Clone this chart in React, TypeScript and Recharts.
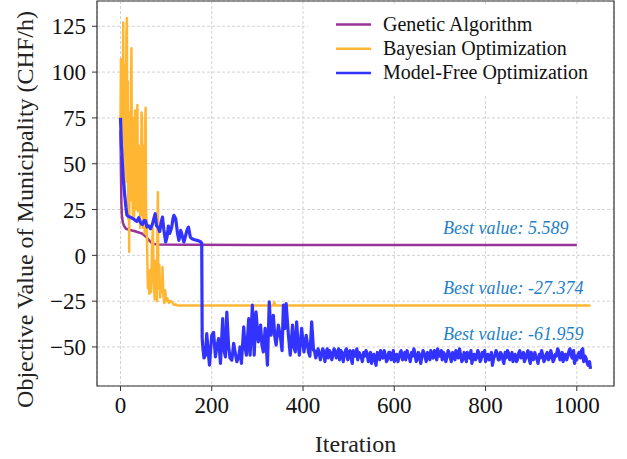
import React from "react";
import {
  LineChart,
  Line,
  XAxis,
  YAxis,
  CartesianGrid,
  Legend,
  ReferenceArea,
  ReferenceDot,
} from "recharts";

// [iteration, objective value]
const gaPoints: [number, number][] = [
  [0, 68], [1, 45], [2, 28], [3, 22], [5, 18], [8, 16], [12, 14.5], [20, 13.8],
  [30, 13.3], [40, 12.5], [48, 11.8], [55, 10.3], [60, 9], [65, 7.5], [70, 6.4],
  [80, 5.9], [150, 5.8], [300, 5.7], [500, 5.65], [1000, 5.589],
];

const boPoints: [number, number][] = [
  [0, 75], [1, 107], [2, 55], [3, 98], [4, 62], [5, 88], [6, 127], [7, 45], [8, 95],
  [9, 35], [10, 104], [11, 60], [12, 85], [13, 121], [14, 129.5], [15, 40], [16, 95],
  [17, 20], [18, 70], [19, 2], [20, 58], [21, 78], [22, 30], [23, 90], [24, 113],
  [25, 45], [26, 68], [27, 22], [28, 75], [29, 40], [30, 21], [31, 66], [32, 79],
  [33, 30], [34, 52], [35, 25], [36, 70], [37, 82], [38, 35], [39, 24], [40, 60],
  [41, 30], [42, 48], [43, 15], [44, 55], [45, 36], [46, 78], [47, 74], [48, 22],
  [49, 40], [50, 15], [51, 60], [52, 28], [53, 12], [54, 70], [55, 80.5], [56, 25],
  [57, 18], [58, 10], [59, -5], [60, -18], [62, -12], [63, -21], [65, -8], [67, -20],
  [69, 5], [71, 14.7], [73, -15], [75, -24], [77, -3], [79, -22], [80, -25], [81, 20],
  [82, 34.5], [83, -18], [85, -5], [87, -23], [89, -14], [91, -20], [92, -6.4],
  [94, -22], [96, -26], [98, -19], [100, -25], [103, -23.5], [106, -26], [109, -25],
  [113, -25.5], [117, -27], [121, -26.8], [125, -27.374], [335, -27.374],
  [337, -25.5], [339, -27.374], [1030, -27.374],
];

const mfoPoints: [number, number][] = [
  [0, 75], [2, 60], [4, 51], [6, 42], [8, 36], [10, 31], [12, 26], [14, 22],
  [16, 21.5], [20, 21], [24, 20.5], [28, 20], [32, 19.2], [36, 18.5], [40, 20.5],
  [44, 17.8], [48, 16.8], [52, 19], [55, 18.8], [58, 15.5], [62, 16], [66, 14.5],
  [70, 17], [74, 21], [76, 22.7], [79, 16], [82, 15.4], [86, 13], [89, 18],
  [92, 20.9], [95, 14], [99, 7.3], [102, 10], [105, 16], [108, 12], [112, 15],
  [115, 20], [117, 21.8], [121, 20], [125, 12], [128, 8.2], [132, 13.6], [136, 10],
  [139, 7.3], [143, 11], [146, 14], [149, 15.4], [153, 10], [157, 9], [162, 8.5],
  [168, 8.2], [172, 7.8], [176, 7.3], [178, 6.6], [179, -45],
  [180, -49], [183, -56], [186, -54.5], [189, -42.7], [192, -52], [195, -59.9],
  [200, -43.6], [204, -42], [208, -55.4], [211, -50], [215, -45.4], [219, -59],
  [224, -34.5], [227, -52], [230, -55.4], [233, -31], [237, -50], [240, -56],
  [244, -57.2], [248, -48], [251, -52.7], [255, -58], [259, -55.4], [262, -50],
  [265, -59], [270, -39], [273, -50], [276, -54.5], [281, -34.5], [284, -54.5],
  [289, -27.2], [293, -54.5], [297, -30.9], [302, -47.2], [307, -38.1], [310, -49],
  [313, -52.7], [317, -39.9], [322, -59.9], [326, -25.4], [330, -43.6], [335, -32.7],
  [338, -44], [341, -49], [346, -38.1], [351, -45.4], [354, -52], [357, -27.2],
  [360, -40], [363, -26.3], [368, -43.6], [372, -54.5], [377, -38.1], [380, -50],
  [383, -52.7], [386, -36.3], [389, -48], [392, -54.5], [397, -39.9], [402, -52.7],
  [407, -43.6], [412, -52.7], [415, -55], [419, -36.3], [423, -51.7],
  [425, -52], [428, -56], [430, -54], [433, -51], [435, -53], [438, -57], [440, -55],
  [443, -51], [445, -52], [448, -58], [450, -54], [453, -51], [455, -56],
  [458, -52], [460, -53], [463, -57], [465, -55], [468, -51], [470, -52], [473, -56],
  [475, -54], [478, -51], [480, -57], [483, -52], [485, -53], [488, -58], [490, -55],
  [493, -52], [495, -51], [498, -57], [500, -54], [503, -52], [505, -56], [508, -59],
  [510, -52], [513, -55], [515, -55], [518, -51], [520, -57], [523, -53], [525, -54],
  [528, -56], [530, -58], [533, -53], [535, -55], [538, -52], [540, -53], [543, -58],
  [545, -56], [548, -53], [550, -59], [553, -55], [555, -54], [558, -58], [560, -60],
  [563, -53], [565, -55], [568, -57], [570, -52], [573, -55], [575, -56], [578, -52],
  [580, -54], [583, -58], [585, -57], [588, -53], [590, -53], [593, -57], [595, -55],
  [598, -52], [600, -58], [603, -55], [605, -54], [608, -58], [610, -56], [613, -53],
  [615, -52], [618, -57], [620, -55], [623, -53], [625, -57], [628, -52], [630, -54],
  [633, -56], [635, -58], [638, -53], [640, -55], [643, -51], [645, -53], [648, -58],
  [650, -57], [653, -53], [655, -54], [658, -59], [660, -56], [663, -52], [665, -53],
  [668, -56], [670, -58], [673, -53], [675, -55], [678, -57], [680, -52], [683, -55],
  [685, -56], [688, -52], [690, -54], [693, -57], [695, -51], [698, -55], [700, -55],
  [703, -52], [705, -57], [708, -53], [710, -54], [713, -58], [715, -56], [718, -52],
  [720, -53], [723, -56], [725, -58], [728, -53], [730, -55], [733, -57], [735, -52],
  [738, -54], [740, -56], [743, -51], [745, -54], [748, -58], [750, -57], [753, -53],
  [755, -55], [758, -58], [760, -53], [763, -55], [765, -56], [768, -52], [770, -59],
  [773, -55], [775, -54], [778, -57], [780, -56], [783, -52], [785, -53], [788, -58],
  [790, -57], [793, -53], [795, -55], [798, -52], [800, -58], [803, -55], [805, -54],
  [808, -57], [810, -56], [813, -53], [815, -60], [818, -56], [820, -55], [823, -52],
  [825, -53], [828, -57], [830, -57], [833, -53], [835, -54], [838, -57], [840, -59],
  [843, -53], [845, -56], [848, -52], [850, -53], [853, -57], [855, -55], [858, -53],
  [860, -58], [863, -56], [865, -54], [868, -58], [870, -57], [873, -53], [875, -52],
  [878, -56], [880, -55], [883, -53], [885, -58], [888, -56], [890, -54], [893, -52],
  [895, -56], [898, -59], [900, -53], [903, -55], [905, -57], [908, -53], [910, -55],
  [913, -57], [915, -59], [918, -54], [920, -56], [923, -52], [925, -54], [928, -58],
  [930, -57], [933, -54], [935, -53], [938, -57], [940, -56], [943, -52], [945, -54],
  [948, -58], [950, -57], [953, -54], [955, -55], [958, -51], [960, -52], [963, -57],
  [965, -56], [968, -53], [970, -58], [973, -55], [975, -54], [978, -57], [980, -55],
  [983, -52], [985, -51], [988, -55], [990, -56], [993, -52], [995, -59], [998, -55],
  [1000, -57], [1003, -54], [1005, -53], [1008, -56], [1010, -52], [1013, -51],
  [1015, -58], [1018, -55], [1020, -56], [1023, -59], [1025, -60], [1028, -58],
  [1030, -61.959],
];

const xTicks = [0, 200, 400, 600, 800, 1000];
const yTicks = [-50, -25, 0, 25, 50, 75, 100, 125];

const bestLabels = [
  { text: "Best value: 5.589", iter: 707, value: 11.8 },
  { text: "Best value: -27.374", iter: 707, value: -20.9 },
  { text: "Best value: -61.959", iter: 707, value: -46.3 },
];

const series = [
  { name: "Genetic Algorithm", color: "#993399", width: 2.5, points: gaPoints },
  { name: "Bayesian Optimization", color: "#ffb733", width: 2.5, points: boPoints },
  { name: "Model-Free Optimization", color: "#3333ff", width: 3.2, points: mfoPoints },
];

const X_DOMAIN: [number, number] = [-51.5, 1081.5];
const Y_DOMAIN: [number, number] = [-71.3, 138.8];
const FONT = "'Liberation Serif', 'Times New Roman', serif";

const toRows = (pts: [number, number][]) => pts.map(([i, v]) => ({ i, v }));
const fmt = (v: number) => (v < 0 ? `\u2212${-v}` : `${v}`);

function LegendBox() {
  return (
    <svg width={303} height={92}>
      <rect x={0} y={0} width={303} height={92} fill="#fff" />
      {series.map((s, k) => {
        const y = 20.5 + k * 24.2;
        return (
          <g key={s.name}>
            <line x1={28} x2={63} y1={y} y2={y} stroke={s.color} strokeWidth={2.5} />
            <text x={75} y={y + 6.5} fontSize={20} fontFamily={FONT} fill="#111">
              {s.name}
            </text>
          </g>
        );
      })}
    </svg>
  );
}

export default function App() {
  return (
    <div style={{ width: 627, height: 459, position: "relative", fontFamily: FONT }}>
      <style>{`body{margin:0}`}</style>
      <LineChart width={627} height={459} margin={{ top: 1, right: 13, bottom: 0, left: 0 }}>
        <CartesianGrid stroke="#c6c6c6" strokeDasharray="3 2" strokeWidth={0.8} />
        <XAxis
          dataKey="i"
          type="number"
          domain={X_DOMAIN}
          ticks={xTicks}
          allowDataOverflow
          height={73}
          tickSize={5}
          tickMargin={6}
          axisLine={false}
          tickLine={{ stroke: "#333" }}
          tick={{ fontSize: 23, fill: "#111", fontFamily: FONT }}
          label={{
            content: (p: any) => {
              const vb = p.viewBox;
              return (
                <text
                  x={vb.x + vb.width / 2}
                  y={vb.y + 66}
                  textAnchor="middle"
                  fontSize={24}
                  fontFamily={FONT}
                  fill="#222"
                >
                  Iteration
                </text>
              );
            },
          }}
        />
        <YAxis
          type="number"
          domain={Y_DOMAIN}
          ticks={yTicks}
          allowDataOverflow
          width={97}
          tickSize={5}
          tickMargin={6}
          axisLine={false}
          tickLine={{ stroke: "#333" }}
          tickFormatter={fmt}
          tick={{ fontSize: 23, fill: "#111", fontFamily: FONT }}
          label={{
            content: (p: any) => {
              const vb = p.viewBox;
              const cy = vb.y + vb.height / 2 + 16;
              return (
                <text
                  x={33}
                  y={cy}
                  transform={`rotate(-90 33 ${cy})`}
                  textAnchor="middle"
                  fontSize={24}
                  fontFamily={FONT}
                  fill="#222"
                >
                  Objective Value of Municipality (CHF/h)
                </text>
              );
            },
          }}
        />
        {series.map((s) => (
          <Line
            key={s.name}
            name={s.name}
            data={toRows(s.points)}
            dataKey="v"
            type="linear"
            stroke={s.color}
            strokeWidth={s.width}
            strokeLinejoin="round"
            dot={false}
            activeDot={false}
            isAnimationActive={false}
          />
        ))}
        {bestLabels.map((b) => (
          <ReferenceDot
            key={b.text}
            x={b.iter}
            y={b.value}
            r={0}
            ifOverflow="visible"
            shape={(p: any) => (
              <text
                x={p.cx}
                y={p.cy}
                fontSize={18}
                fontStyle="italic"
                fontFamily={FONT}
                fill="#1f80c6"
              >
                {b.text}
              </text>
            )}
          />
        ))}
        <ReferenceArea
          x1={X_DOMAIN[0]}
          x2={X_DOMAIN[1]}
          y1={Y_DOMAIN[0]}
          y2={Y_DOMAIN[1]}
          fill="none"
          stroke="#333"
          strokeWidth={1.2}
          ifOverflow="visible"
        />
        <Legend
          layout="vertical"
          align="center"
          verticalAlign="middle"
          content={() => <LegendBox />}
          wrapperStyle={{ position: "absolute", left: 308, top: 4, width: 303, height: 92 }}
        />
      </LineChart>
    </div>
  );
}
